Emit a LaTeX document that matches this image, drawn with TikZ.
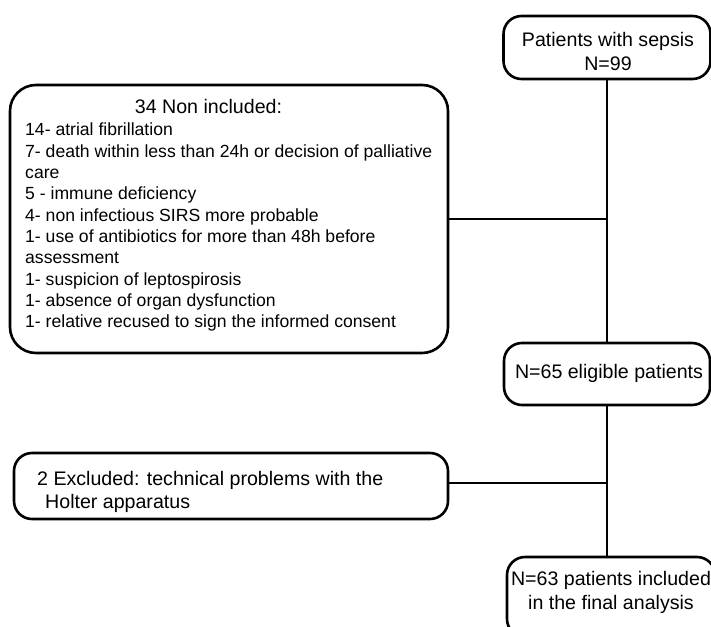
\documentclass[tikz,border=0pt]{standalone}
\usepackage{fontspec}
\setmainfont{Liberation Sans}
\begin{document}
\begin{tikzpicture}[x=1pt,y=-1pt,
  box/.style={draw, line width=2.6pt, rounded corners=18pt, inner sep=0pt},
  lbl/.style={inner sep=0pt, font=\fontsize{19.6}{23.5}\selectfont},
  small/.style={inner sep=0pt, font=\fontsize{17.6}{21.3}\selectfont},
  link/.style={line width=2.6pt}]
\useasboundingbox (0,0) rectangle (711,626);
\clip (0,0) rectangle (711,626);

% boxes
\node[box, minimum width=207pt, minimum height=63pt] (sepsis) at (607,47.5) {};
\node[lbl, align=center] (sepsistxt) at (608,51.5) {Patients with sepsis\\N=99};

\node[box, rounded corners=26pt, minimum width=438pt, minimum height=268pt] (nonincl) at (229,219) {};
\node[lbl, anchor=base] (title) at (208.5,113) {34 Non included:};
\node[small, align=left, anchor=north west] (reasons) at (25,123) {14- atrial fibrillation\\
7- death within less than 24h or decision of palliative\\
care\\
5 - immune deficiency\\
4- non infectious SIRS more probable\\
1- use of antibiotics for more than 48h before\\
assessment\\
1- suspicion of leptospirosis\\
1- absence of organ dysfunction\\
1- relative recused to sign the informed consent};

\node[box, minimum width=206pt, minimum height=62pt] (eligible) at (607,374) {};
\node[lbl] (eligibletxt) at (609,373) {N=65 eligible patients};

\node[box, minimum width=434pt, minimum height=66pt] (excl) at (231,486) {};
\node[lbl, align=left, anchor=north west] (excltxt) at (37,471) {2 Excluded: technical problems with the\\\hspace*{8pt}Holter apparatus};

\node[box, minimum width=208pt, minimum height=80pt] (final) at (611,597) {};
\node[lbl, align=center] (finaltxt) at (611,592.5) {N=63 patients included\\in the final analysis};

% connectors
\coordinate (j2y) at (0,483);
\draw[link] (sepsis.south) -- (eligible.north);
\draw[link] (nonincl.east) -- (sepsis.south |- nonincl.east);
\draw[link] (eligible.south) -- (eligible.south |- final.north);
\draw[link] (excl.east |- j2y) -- (eligible.south |- j2y);
\end{tikzpicture}
\end{document}
